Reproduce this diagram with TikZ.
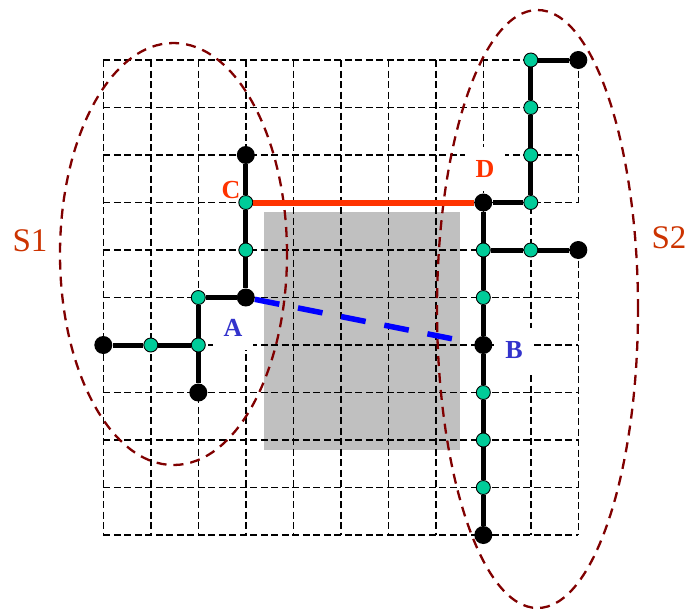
\documentclass[tikz,border=0pt]{standalone}
\usepackage{fontspec}
\setmainfont{Liberation Serif}
\definecolor{gnodecol}{HTML}{00CC99}
\definecolor{ellcol}{HTML}{800000}
\definecolor{redcol}{HTML}{FF3300}
\definecolor{bluetxt}{HTML}{3333CC}
\definecolor{bluelin}{HTML}{0000FF}
\definecolor{scol}{HTML}{CC3300}
\definecolor{graycol}{HTML}{C0C0C0}
\begin{document}
\begin{tikzpicture}[x=1pt,y=-1pt,
 gridline/.style={black, line width=1.6pt, dash pattern=on 7pt off 3.5pt},
 bnode/.style={circle, fill=black, inner sep=0pt, minimum size=18pt},
 gnode/.style={circle, fill=gnodecol, draw=black, line width=0.9pt, inner sep=0pt, minimum size=14pt},
 tree/.style={line width=5pt, black},
 lbl/.style={font=\fontsize{26}{26}\selectfont\bfseries, inner sep=0pt, minimum width=40pt, minimum height=44pt},
 slbl/.style={font=\fontsize{33}{33}\selectfont, text=scol, inner sep=0pt},
 region/.style={ellcol, line width=2.3pt, dash pattern=on 10pt off 7pt}
]
\useasboundingbox (0,0) rectangle (690,614);
% shaded area
\fill[graycol] (264,212) rectangle (460,450);
% grid
\foreach \i in {0,...,10} {
  \draw[gridline] (103.3,60+47.5*\i) -- (578.3,60+47.5*\i);
}
\foreach \i in {0,...,9} {
  \draw[gridline] (103.3+47.5*\i,60) -- (103.3+47.5*\i,535);
}
\draw[gridline] (578.3,60) -- (578.3,202.5);
\draw[gridline] (578.3,250) -- (578.3,535);
% point labels (white boxes hide the grid behind them)
\node[lbl, fill=white, text=bluetxt] (labA) at (233,328) {A};
\node[lbl, fill=white, text=bluetxt] (labB) at (514,350) {B};
\node[lbl, fill=white, text=redcol] (labD) at (485,169) {D};
\node[lbl, text=redcol] (labC) at (231,190) {C};
% regions
\draw[region] (173.5,254) ellipse [x radius=113.5pt, y radius=211pt];
\draw[region] (537.5,309) ellipse [x radius=100.5pt, y radius=299pt];
\node[slbl] (s1) at (30,241) {S1};
\node[slbl] (s2) at (669,238) {S2};
% left tree
\node[bnode] (l1) at (245.8,155) {};
\node[gnode] (nC) at (245.8,202.5) {};
\node[gnode] (l2) at (245.8,250) {};
\node[bnode] (nA) at (245.8,297.5) {};
\node[gnode] (l3) at (198.3,297.5) {};
\node[gnode] (l4) at (198.3,345) {};
\node[gnode] (l5) at (150.8,345) {};
\node[bnode] (l6) at (103.3,345) {};
\node[bnode] (l7) at (198.3,392.5) {};
% right tree
\node[bnode] (r1) at (578.3,60) {};
\node[gnode] (r2) at (530.8,60) {};
\node[gnode] (r3) at (530.8,107.5) {};
\node[gnode] (r4) at (530.8,155) {};
\node[gnode] (r5) at (530.8,202.5) {};
\node[bnode] (nD) at (483.3,202.5) {};
\node[gnode] (r6) at (483.3,250) {};
\node[gnode] (r7) at (530.8,250) {};
\node[bnode] (r8) at (578.3,250) {};
\node[gnode] (r9) at (483.3,297.5) {};
\node[bnode] (nB) at (483.3,345) {};
\node[gnode] (r10) at (483.3,392.5) {};
\node[gnode] (r11) at (483.3,440) {};
\node[gnode] (r12) at (483.3,487.5) {};
\node[bnode] (r13) at (483.3,535) {};
% tree edges
\draw[tree] (l1) -- (nC) -- (l2) -- (nA);
\draw[tree] (nA) -- (l3) -- (l4) -- (l7);
\draw[tree] (l6) -- (l5) -- (l4);
\draw[tree] (r1) -- (r2) -- (r3) -- (r4) -- (r5) -- (nD);
\draw[tree] (nD) -- (r6) -- (r9) -- (nB) -- (r10) -- (r11) -- (r12) -- (r13);
\draw[tree] (r6) -- (r7) -- (r8);
% C-D and A-B links
\draw[redcol, line width=6pt] (nC) -- (nD);
\draw[bluelin, line width=5.5pt, dash pattern=on 25pt off 19pt, shorten >=16pt] (nA) -- (nB);
\end{tikzpicture}
\end{document}
